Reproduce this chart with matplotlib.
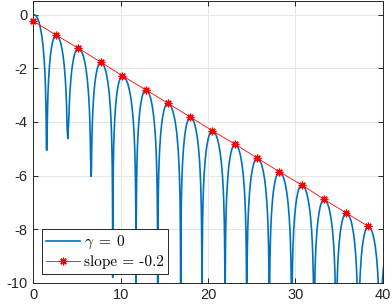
import matplotlib
matplotlib.use("Agg")
import matplotlib.pyplot as plt
import numpy as np

# ---- data ----
# peaks of the blue curve (arc tops); last one lies beyond the x-limit
peak_x = [0.10, 2.60, 5.15, 7.72, 10.19, 12.87, 15.39, 17.97, 20.49, 23.09,
          25.64, 28.16, 30.73, 33.28, 35.83, 38.35, 40.90]
peak_y = [0.00, -0.76, -1.25, -1.77, -2.28, -2.80, -3.30, -3.82, -4.33, -4.83,
          -5.35, -5.86, -6.35, -6.89, -7.40, -7.90, -8.42]
# notches (zeros) of the blue curve and how deep each one goes
dip_x = [1.53, 3.94, 6.61, 9.09, 11.76, 14.24, 16.87, 19.31, 21.95, 24.43,
         27.02, 29.58, 32.14, 34.66, 37.21, 39.69]
dip_y = [-5.06, -4.62, -6.03, -9.80, -12.0, -12.0, -12.0, -12.0, -12.0, -12.0,
         -12.0, -12.0, -12.0, -12.0, -12.0, -12.0]
# arc profile read from one arc: fraction of half-width (0 = top, 0.5 = notch) vs drop below top
profile_u = [0.0, 0.05, 0.10, 0.15, 0.20, 0.25, 0.30, 0.35, 0.40, 0.43, 0.45, 0.47, 0.48, 0.49, 0.495]
profile_drop = [0.0, 0.02, 0.07, 0.17, 0.30, 0.50, 0.76, 1.13, 1.68, 2.18, 2.66, 3.39, 3.97, 4.96, 5.95]
# red "slope = -0.2" reference points
slope_x = [0.0, 2.60, 5.15, 7.72, 10.19, 12.87, 15.39, 17.97, 20.49, 23.09,
           25.64, 28.16, 30.73, 33.28, 35.83, 38.35]
slope_y = [-0.24, -0.76, -1.25, -1.77, -2.28, -2.80, -3.30, -3.82, -4.33, -4.83,
           -5.35, -5.86, -6.35, -6.89, -7.40, -7.90]
x_ticks = [0, 10, 20, 30, 40]
y_ticks = [0, -2, -4, -6, -8, -10]
labels = [r'$\gamma \;=\; 0$', 'slope = -0.2']

# ---- assemble blue curve from arcs ----
bx, by = [], []
n = len(peak_x)
for i in range(n):
    px, py = peak_x[i], peak_y[i]
    left = dip_x[i - 1] if i > 0 else px - 1.3
    ldepth = dip_y[i - 1] if i > 0 else -99
    right = dip_x[i] if i < len(dip_x) else px + 1.3
    rdepth = dip_y[i] if i < len(dip_y) else -99
    for u, d in zip(profile_u[::-1], profile_drop[::-1]):
        y = py - d
        if y > ldepth:
            bx.append(px - 2 * u * (px - left))
            by.append(y)
    for u, d in zip(profile_u[1:], profile_drop[1:]):
        y = py - d
        if y > rdepth:
            bx.append(px + 2 * u * (right - px))
            by.append(y)
    if i < len(dip_x):
        bx.append(right)
        by.append(rdepth)

plt.rcParams['mathtext.fontset'] = 'cm'
fig = plt.figure(figsize=(3.92, 3.05), dpi=100)
ax = fig.add_axes([0.085, 0.0731, 0.8913, 0.9226])

ax.plot(bx, by, color='#0072BD', lw=1.2, label=labels[0])
ax.plot(slope_x, slope_y, color='#FF0000', lw=0.6, marker=(8, 2, 0), ms=5.5,
        markeredgewidth=0.9, label=labels[1], clip_on=False, zorder=3)

ax.set_xlim(0, 40)
ax.set_ylim(-10, 0.5)
ax.set_xticks(x_ticks)
ax.set_yticks(y_ticks)
ax.set_xticklabels([str(t) for t in x_ticks])
ax.set_yticklabels([str(t) for t in y_ticks])
ax.grid(True, color='#e6e6e6', lw=0.7)
ax.set_axisbelow(True)
for s in ax.spines.values():
    s.set_color('#262626')
    s.set_linewidth(0.7)
ax.tick_params(direction='in', length=3.5, width=0.7, colors='#262626',
               top=True, right=True, labelsize=10.5, pad=4)
for lab in ax.get_xticklabels() + ax.get_yticklabels():
    lab.set_fontfamily('Liberation Sans')

leg = ax.legend(loc='lower left', bbox_to_anchor=(0.024, 0.032),
                prop={'family': 'cmr10', 'size': 11}, frameon=True,
                fancybox=False, edgecolor='#262626', framealpha=1,
                handlelength=2.2, handletextpad=0.25, borderpad=0.3,
                labelspacing=0.25, borderaxespad=0)
leg.get_frame().set_linewidth(0.7)

fig.savefig('out.png', dpi=100)
